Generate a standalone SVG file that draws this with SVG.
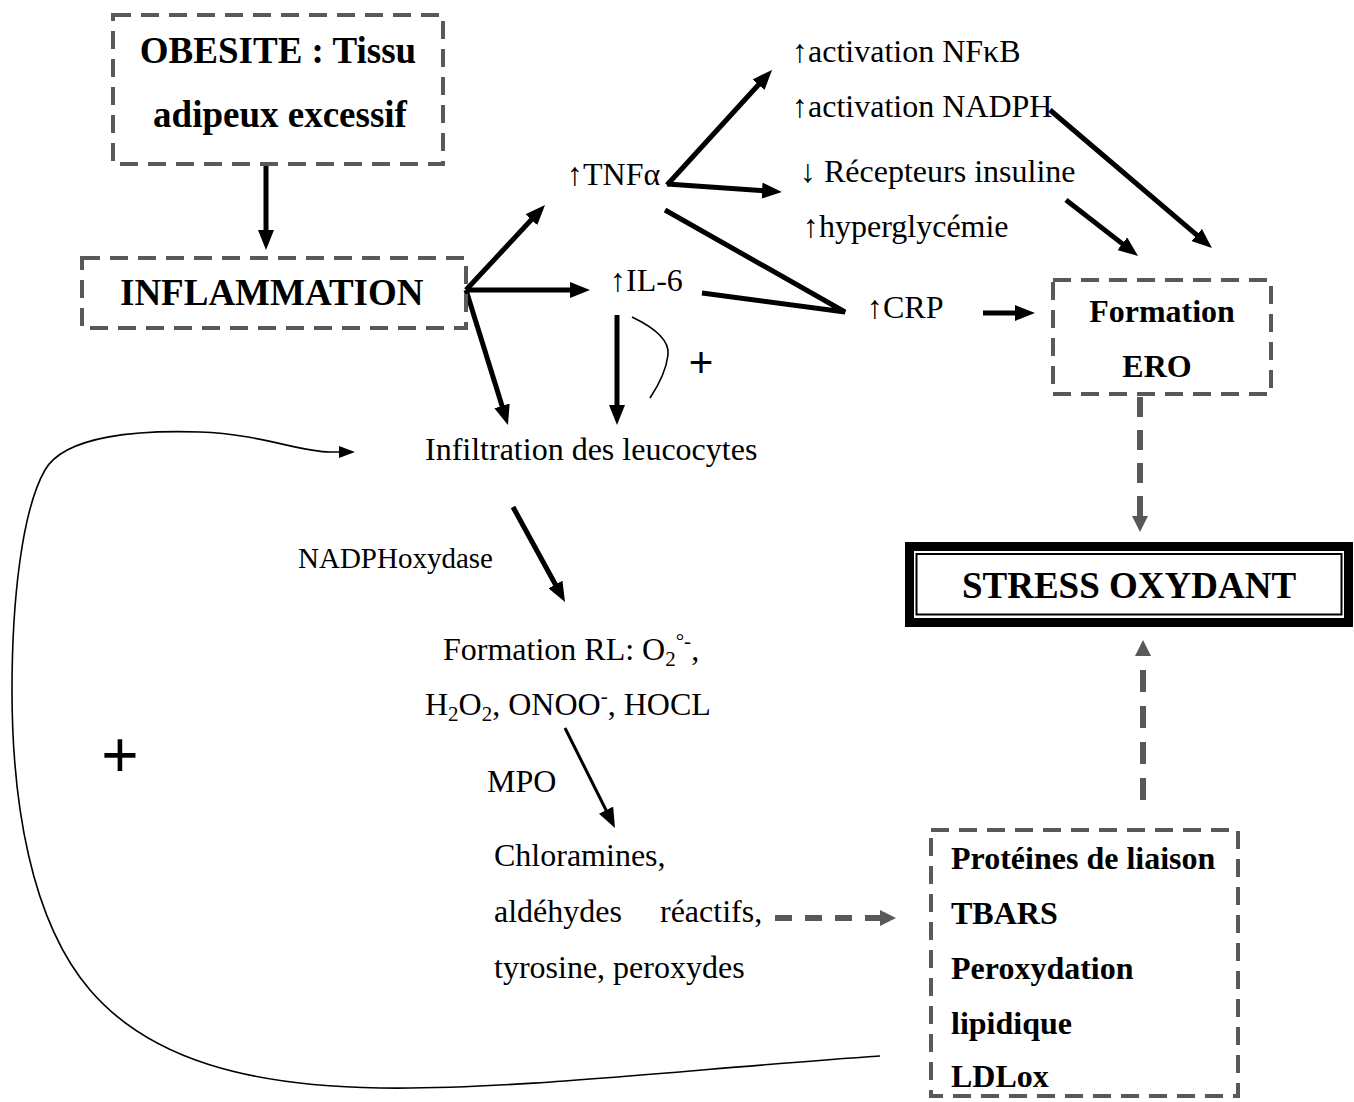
<svg xmlns="http://www.w3.org/2000/svg" width="1354" height="1102" viewBox="0 0 1354 1102">
  <style>
    .t { font-family: "Liberation Serif", "Times New Roman", serif; font-size: 32px; fill: #000; }
    .t .s { font-size: 21px; }
    .small { font-size: 29px; }
    .b { font-family: "Liberation Serif", "Times New Roman", serif; font-weight: bold; fill: #000; }
    .b37 { font-size: 37px; }
    .b32 { font-size: 32px; }
    .box { fill: none; stroke: #595959; stroke-width: 4; stroke-dasharray: 18 10; }
    .arr { fill: none; stroke: #000; stroke-width: 5; marker-end: url(#ah); }
    .arr3 { fill: none; stroke: #000; stroke-width: 3; marker-end: url(#ah); }
    .ln { fill: none; stroke: #000; stroke-width: 5; }
    .garr { fill: none; stroke: #595959; stroke-width: 6; marker-end: url(#gah); }
    .thin { fill: none; stroke: #000; stroke-width: 1.6; }
    .plus { font-family: "Liberation Sans", Arial, sans-serif; fill: #000; text-anchor: middle; }
    .p64 { font-size: 64px; }
    .p42 { font-size: 42px; }
  </style>
  <defs>
    <marker id="ah" viewBox="0 0 20 16" markerWidth="20" markerHeight="16" refX="6" refY="8" orient="auto" markerUnits="userSpaceOnUse">
      <path d="M0,0 L20,8 L0,16 Z" fill="#000"/>
    </marker>
    <marker id="gah" viewBox="0 0 16 16" markerWidth="16" markerHeight="16" refX="4" refY="8" orient="auto" markerUnits="userSpaceOnUse">
      <path d="M0,0 L16,8 L0,16 Z" fill="#595959"/>
    </marker>
    <marker id="sah" viewBox="0 0 16 12" markerWidth="16" markerHeight="12" refX="2" refY="6" orient="auto" markerUnits="userSpaceOnUse">
      <path d="M0,0 L16,6 L0,12 Z" fill="#000"/>
    </marker>
  </defs>

  <!-- connectors -->
  <g id="connectors">
    <path class="arr" d="M266,162 L266,236"/>
    <path class="arr" d="M466,290 L535.5,215.3"/>
    <path class="arr" d="M466,290 L576,290"/>
    <path class="arr" d="M466,290 L503.8,411.6"/>
    <path class="arr" d="M617,315 L617,411"/>
    <path class="arr" d="M667,185 L762.6,80.3"/>
    <path class="arr" d="M667,184 L768,191"/>
    <path class="ln" d="M665,210 L845,312 L702,293"/>
    <path class="arr" d="M983,313 L1021,313"/>
    <path class="arr" d="M1050,110 L1201.3,238.9"/>
    <path class="arr" d="M1066,200 L1127,247.4"/>
    <path class="arr" d="M513,507 L558.3,589.7"/>
    <path class="arr3" d="M565,728 L608.7,815.5"/>
    <path class="garr" d="M1140,397 L1140,520" stroke-dasharray="20 13"/>
    <path class="garr" d="M1143,800 L1143,652" stroke-dasharray="22 14"/>
    <path class="garr" d="M775,918 L884,918" stroke-dasharray="17 13"/>
    <!-- positive feedback loop back to the leucocytes -->
    <path class="thin" marker-end="url(#sah)" d="M880,1056 C700,1068 520,1090 380,1088 C250,1086 150,1060 90,990 C30,920 12,800 12,690 C12,600 22,510 45,470 C65,435 140,430 200,432 C260,434 300,452 330,452 L341,452"/>
    <!-- IL-6 self-amplification -->
    <path class="thin" d="M632,317 C655,328 670,340 668,355 C666,372 658,386 650,398"/>
  </g>

  <g id="obesite">
    <rect class="box" x="113" y="15" width="330" height="149"/>
    <text class="b b37" x="278" y="63" text-anchor="middle">OBESITE : Tissu</text>
    <text class="b b37" x="280" y="127" text-anchor="middle">adipeux excessif</text>
  </g>

  <g id="inflammation">
    <rect class="box" x="82" y="258" width="384" height="70"/>
    <text class="b b37" x="120" y="305">INFLAMMATION</text>
  </g>

  <g id="tnf">
    <text class="t" x="567" y="185">↑TNFα</text>
  </g>
  <g id="il6">
    <text class="t" x="610" y="291">↑IL-6</text>
  </g>
  <g id="nfkb">
    <text class="t" x="792" y="62">↑activation NFκB</text>
  </g>
  <g id="nadph">
    <text class="t" x="792" y="117">↑activation NADPH</text>
  </g>
  <g id="recepteurs">
    <text class="t" x="800" y="182">↓ Récepteurs insuline</text>
  </g>
  <g id="hyperglycemie">
    <text class="t" x="803" y="237">↑hyperglycémie</text>
  </g>
  <g id="crp">
    <text class="t" x="867" y="318">↑CRP</text>
  </g>

  <g id="ero">
    <rect class="box" x="1053" y="280" width="218" height="114"/>
    <text class="b b32" x="1162" y="322" text-anchor="middle">Formation</text>
    <text class="b b32" x="1157" y="377" text-anchor="middle">ERO</text>
  </g>

  <g id="stress">
    <rect x="909.5" y="546.5" width="439" height="76" fill="#fff" stroke="#000" stroke-width="9"/>
    <rect x="916.5" y="554" width="425" height="60.5" fill="none" stroke="#000" stroke-width="2"/>
    <text class="b b37" x="1129" y="598" text-anchor="middle">STRESS OXYDANT</text>
  </g>

  <g id="infiltration">
    <text class="t" x="425" y="460">Infiltration des leucocytes</text>
    <text class="t small" x="298" y="568">NADPHoxydase</text>
  </g>

  <g id="radicaux">
    <text class="t" x="443" y="660">Formation RL: O<tspan class="s" dy="6">2</tspan><tspan class="s" dy="-18">°-</tspan><tspan dy="12">,</tspan></text>
    <text class="t" x="425" y="715">H<tspan class="s" dy="6">2</tspan><tspan dy="-6">O</tspan><tspan class="s" dy="6">2</tspan><tspan dy="-6">, ONOO</tspan><tspan class="s" dy="-12">-</tspan><tspan dy="12">, HOCL</tspan></text>
    <text class="t" x="487" y="792">MPO</text>
  </g>

  <g id="chloramines">
    <text class="t" x="494" y="866">Chloramines,</text>
    <text class="t" y="922"><tspan x="494">aldéhydes</tspan><tspan x="660">réactifs,</tspan></text>
    <text class="t" x="494" y="978">tyrosine, peroxydes</text>
  </g>

  <g id="marqueurs">
    <rect class="box" x="931" y="830" width="307" height="266"/>
    <text class="b b32" x="951" y="869">Protéines de liaison</text>
    <text class="b b32" x="951" y="924">TBARS</text>
    <text class="b b32" x="951" y="979">Peroxydation</text>
    <text class="b b32" x="951" y="1034">lipidique</text>
    <text class="b b32" x="951" y="1087">LDLox</text>
  </g>

  <g id="signes">
    <text class="plus p64" x="120" y="777">+</text>
    <text class="plus p42" x="701" y="377">+</text>
  </g>
</svg>
